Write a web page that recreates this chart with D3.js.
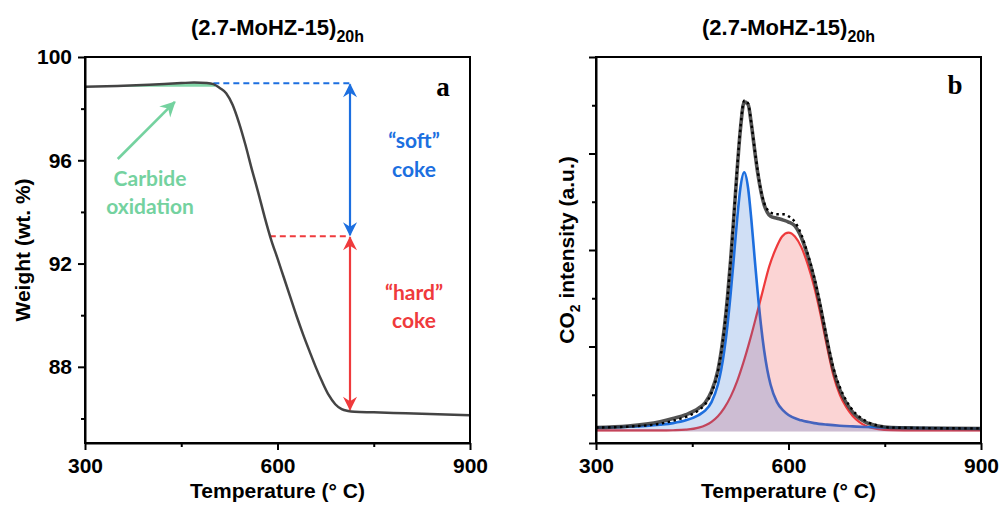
<!DOCTYPE html>
<html><head><meta charset="utf-8">
<script src="https://cdn.jsdelivr.net/npm/d3@7"></script>
<style>
body{margin:0;background:#fff}
svg{display:block}
text{font-family:"Liberation Sans",Arial,sans-serif;font-weight:bold;fill:#000}
</style>
</head><body><svg id="c" width="1004" height="506"></svg>
<script>
// ---------- Data ----------
const xTicks = [300, 600, 900];
const xMinor = [450, 750];
const yTicksA = [88, 92, 96, 100];
const yMinorA = [86, 90, 94, 98];
const yTicksB = [0, 1, 2, 3, 4];
const yMinorB = [0.5, 1.5, 2.5, 3.5];

// Panel a: TGA weight loss
const tgaTemp   = [300,350,400,450,470,490,500,510,520,530,540,550,560,570,580,590,600,610,620,630,640,650,660,670,680,690,700,710,720,750,800,850,900];
const tgaWeight = [98.85,98.88,98.93,98.99,99.01,98.99,98.95,98.8,98.6,98.15,97.45,96.6,95.65,94.75,93.8,92.93,92.2,91.45,90.7,89.95,89.25,88.6,87.97,87.4,86.9,86.55,86.36,86.29,86.26,86.24,86.2,86.16,86.12];

// annotation levels (panel a)
const carbideBase = 98.85, carbideEnd = 503;
const softLevel = 98.98, hardLevel = 93.06, residueLevel = 86.30;
const arrowTemp = 713, softStart = 500, hardStart = 588;

// Panel b: TPO CO2 profile
const blueTemp = [300,350,400,420,440,460,470,480,490,495,500,505,510,515,520,525,531,537,542,547,552,557,562,567,572,582,592,600,620,640,660,680,700,720,760,800,900];
const blueVal  = [0.16,0.168,0.19,0.206,0.235,0.29,0.335,0.424,0.606,0.756,0.961,1.228,1.558,1.935,2.322,2.643,2.805,2.643,2.322,1.935,1.558,1.228,0.961,0.756,0.606,0.424,0.335,0.29,0.235,0.206,0.19,0.179,0.172,0.166,0.16,0.156,0.151];
const redTemp  = [300,400,420,440,460,480,490,500,510,520,530,540,550,560,570,580,590,600,610,620,630,640,650,660,670,680,690,700,710,720,740,760,800,900];
const redVal   = [0.13,0.13,0.132,0.138,0.159,0.22,0.278,0.364,0.483,0.641,0.84,1.069,1.32,1.579,1.83,2.01,2.14,2.18,2.14,2.03,1.85,1.62,1.33,1.0,0.70,0.50,0.37,0.28,0.22,0.18,0.143,0.133,0.13,0.13];
const measTemp = [300,350,400,420,440,460,470,480,490,495,500,505,510,515,520,525,531,537,542,547,552,557,562,567,572,582,592,600,610,620,630,640,650,660,670,680,690,700,720,740,760,800,900];
const measVal  = [0.16,0.175,0.22,0.253,0.293,0.36,0.417,0.534,0.754,0.943,1.195,1.517,1.911,2.36,2.833,3.248,3.535,3.509,3.31,3.049,2.80,2.61,2.47,2.39,2.35,2.33,2.31,2.29,2.25,2.13,1.94,1.70,1.40,1.06,0.755,0.55,0.415,0.32,0.216,0.176,0.16,0.156,0.151];
const fitVal   = [0.16,0.17,0.2,0.23,0.27,0.34,0.40,0.52,0.74,0.93,1.18,1.50,1.90,2.36,2.84,3.26,3.55,3.52,3.32,3.06,2.82,2.62,2.49,2.42,2.39,2.37,2.37,2.35,2.29,2.16,1.96,1.72,1.42,1.08,0.78,0.58,0.44,0.34,0.23,0.18,0.16,0.156,0.151];
const fillBase = 0.12;

const titleMain = "(2.7-MoHZ-15)", titleSub = "20h";

// ---------- Drawing ----------
const svg = d3.select("#c");
const plotTop = 57, plotBottom = 443;
const xa = d3.scaleLinear([300, 900], [85, 470]);
const ya = d3.scaleLinear([85.05, 100], [plotBottom, plotTop]);
const xb = d3.scaleLinear([300, 900], [596, 981]);
const yb = d3.scaleLinear([0, 4], [plotBottom, plotTop]);

const defs = svg.append("defs");
function marker(id, color, size) {
  const m = defs.append("marker").attr("id", id)
    .attr("viewBox", "-15 -8 17 16").attr("refX", 0).attr("refY", 0)
    .attr("markerWidth", 17 * size).attr("markerHeight", 16 * size)
    .attr("markerUnits", "userSpaceOnUse").attr("orient", "auto-start-reverse");
  m.append("path").attr("d", "M1,0 L-13,-7 L-8.5,0 L-13,7 Z").attr("fill", color);
}
marker("mBlue", "#1c6fe0", 1);
marker("mRed", "#ef3a3c", 1);
marker("mGreen", "#74d29f", 1.1);

defs.append("clipPath").attr("id", "clipB").append("rect")
  .attr("x", xb(300)).attr("y", plotTop).attr("width", xb(900) - xb(300)).attr("height", plotBottom - plotTop);
defs.append("clipPath").attr("id", "clipCarb").append("rect")
  .attr("x", xa(300)).attr("y", plotTop).attr("width", xa(carbideEnd) - xa(300)).attr("height", ya(carbideBase) - plotTop);

function axes(x, y, yT, yM, showYLabels) {
  const gx = svg.append("g").attr("transform", `translate(0,${plotBottom})`)
    .call(d3.axisBottom(x).tickValues(xTicks).tickSize(7).tickSizeOuter(0).tickPadding(8).tickFormat(d3.format("d")));
  svg.append("g").attr("transform", `translate(0,${plotBottom})`)
    .call(d3.axisBottom(x).tickValues(xMinor).tickSize(4).tickSizeOuter(0).tickFormat(""))
    .select(".domain").remove();
  const gy = svg.append("g").attr("transform", `translate(${x.range()[0]},0)`)
    .call(d3.axisLeft(y).tickValues(yT).tickSize(7).tickSizeOuter(0).tickPadding(6)
      .tickFormat(showYLabels ? d3.format("d") : ""));
  svg.append("g").attr("transform", `translate(${x.range()[0]},0)`)
    .call(d3.axisLeft(y).tickValues(yM).tickSize(4).tickSizeOuter(0).tickFormat(""))
    .select(".domain").remove();
  svg.selectAll(".tick line").attr("stroke-width", 2);
  svg.selectAll(".domain").attr("stroke-width", 2);
  [gx, gy].forEach(g => g.selectAll("text").style("font-size", "21px")
    .style("font-family", '"Liberation Sans",Arial,sans-serif').style("font-weight", "bold"));
  svg.append("rect").attr("x", x.range()[0]).attr("y", plotTop)
    .attr("width", x.range()[1] - x.range()[0]).attr("height", plotBottom - plotTop)
    .attr("fill", "none").attr("stroke", "#000").attr("stroke-width", 2);
}

// ----- Panel a -----
const tga = tgaTemp.map((t, i) => ({t, w: tgaWeight[i]}));
svg.append("path").datum(tga).attr("clip-path", "url(#clipCarb)")
  .attr("d", d3.area().x(d => xa(d.t)).y0(ya(carbideBase) + 1).y1(d => ya(d.w)).curve(d3.curveMonotoneX))
  .attr("fill", "#74d29f").attr("fill-opacity", 0.9);

// dashed guides
svg.append("line").attr("x1", xa(softStart)).attr("x2", xa(arrowTemp)).attr("y1", ya(softLevel)).attr("y2", ya(softLevel))
  .attr("stroke", "#1c6fe0").attr("stroke-width", 2).attr("stroke-dasharray", "6,4");
svg.append("line").attr("x1", xa(hardStart)).attr("x2", xa(arrowTemp)).attr("y1", ya(hardLevel)).attr("y2", ya(hardLevel))
  .attr("stroke", "#ef3a3c").attr("stroke-width", 2).attr("stroke-dasharray", "6,4");

svg.append("path").datum(tga)
  .attr("d", d3.line().x(d => xa(d.t)).y(d => ya(d.w)).curve(d3.curveMonotoneX))
  .attr("fill", "none").attr("stroke", "#444").attr("stroke-width", 2.5);

// double arrows
svg.append("line").attr("x1", xa(arrowTemp)).attr("x2", xa(arrowTemp))
  .attr("y1", ya(softLevel) + 1).attr("y2", ya(hardLevel) - 1)
  .attr("stroke", "#1c6fe0").attr("stroke-width", 2.2)
  .attr("marker-start", "url(#mBlue)").attr("marker-end", "url(#mBlue)");
svg.append("line").attr("x1", xa(arrowTemp)).attr("x2", xa(arrowTemp))
  .attr("y1", ya(hardLevel) + 1).attr("y2", ya(residueLevel) - 1)
  .attr("stroke", "#ef3a3c").attr("stroke-width", 2.2)
  .attr("marker-start", "url(#mRed)").attr("marker-end", "url(#mRed)");
// green arrow
svg.append("line").attr("x1", xa(351)).attr("y1", ya(96.05)).attr("x2", xa(440)).attr("y2", ya(98.26))
  .attr("stroke", "#74d29f").attr("stroke-width", 2.6).attr("marker-end", "url(#mGreen)");

function label(x, y, lines, color, size, lh) {
  const t = svg.append("text").attr("x", x).attr("y", y).attr("text-anchor", "middle")
    .style("font-family", "Lato, 'Open Sans', sans-serif").style("font-size", size + "px").style("fill", color);
  lines.forEach((s, i) => t.append("tspan").attr("x", x).attr("dy", i ? lh : 0).text(s));
}
label(150, 186, ["Carbide", "oxidation"], "#74d29f", 21, 28);
label(414, 148, ["\u201Csoft\u201D", "coke"], "#1c6fe0", 21, 29);
label(414, 300, ["\u201Chard\u201D", "coke"], "#ef3a3c", 21, 28);

svg.append("text").attr("x", 443).attr("y", 96).attr("text-anchor", "middle")
  .style("font-family", "'Liberation Serif','Times New Roman',serif").style("font-size", "27px").text("a");

axes(xa, ya, yTicksA, yMinorA, true);

// ----- Panel b -----
const gB = svg.append("g").attr("clip-path", "url(#clipB)");
const blue = blueTemp.map((t, i) => ({t, v: blueVal[i]}));
const red = redTemp.map((t, i) => ({t, v: redVal[i]}));
const meas = measTemp.map((t, i) => ({t, v: measVal[i]}));
const fit = measTemp.map((t, i) => ({t, v: fitVal[i]}));
const lineB = d3.line().x(d => xb(d.t)).y(d => yb(d.v)).curve(d3.curveMonotoneX);
const areaB = d3.area().x(d => xb(d.t)).y0(yb(fillBase)).y1(d => yb(d.v)).curve(d3.curveMonotoneX);

gB.append("path").datum(red).attr("d", lineB).attr("fill", "none").attr("stroke", "#ef3a3c").attr("stroke-width", 2.2);
gB.append("path").datum(blue).attr("d", lineB).attr("fill", "none").attr("stroke", "#1c6fe0").attr("stroke-width", 2.6);
gB.append("path").datum(red).attr("d", areaB).attr("fill", "rgb(235,60,60)").attr("fill-opacity", 0.22);
gB.append("path").datum(blue).attr("d", areaB).attr("fill", "rgb(40,110,210)").attr("fill-opacity", 0.22);
gB.append("path").datum(meas).attr("d", lineB).attr("fill", "none").attr("stroke", "rgba(45,45,45,0.82)").attr("stroke-width", 3.6);
gB.append("path").datum(fit).attr("d", lineB).attr("fill", "none").attr("stroke", "#000").attr("stroke-width", 2.4).attr("stroke-dasharray", "2.5,3.5");

svg.append("text").attr("x", 955).attr("y", 94).attr("text-anchor", "middle")
  .style("font-family", "'Liberation Serif','Times New Roman',serif").style("font-size", "27px").text("b");

axes(xb, yb, yTicksB, yMinorB, false);

// ----- Titles and axis labels -----
function title(cx) {
  const t = svg.append("text").attr("x", cx).attr("y", 35).attr("text-anchor", "middle").style("font-size", "22px");
  t.append("tspan").text(titleMain);
  t.append("tspan").attr("dy", 7).style("font-size", "16px").text(titleSub);
}
title((xa.range()[0] + xa.range()[1]) / 2);
title((xb.range()[0] + xb.range()[1]) / 2);

[xa, xb].forEach(x => svg.append("text").attr("x", (x.range()[0] + x.range()[1]) / 2).attr("y", 498)
  .attr("text-anchor", "middle").style("font-size", "21px").text("Temperature (\u00B0 C)"));

svg.append("text").attr("transform", `translate(30,${(plotTop + plotBottom) / 2}) rotate(-90)`)
  .attr("text-anchor", "middle").style("font-size", "21px").text("Weight (wt. %)");
const co = svg.append("text").attr("transform", `translate(574,${(plotTop + plotBottom) / 2}) rotate(-90)`)
  .attr("text-anchor", "middle").style("font-size", "21px");
co.append("tspan").text("CO");
co.append("tspan").attr("dy", 6).style("font-size", "14px").text("2");
co.append("tspan").attr("dy", -6).text(" intensity (a.u.)");
</script>
</body></html>
